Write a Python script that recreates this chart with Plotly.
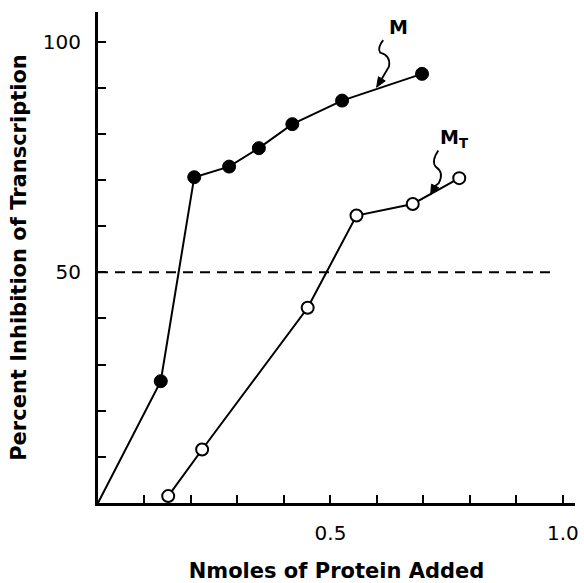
import plotly.graph_objects as go

# Data
m_x = [0.0, 0.135, 0.207, 0.282, 0.346, 0.418, 0.525, 0.697]
m_y = [0.0, 26.4, 70.6, 72.9, 76.9, 82.1, 87.2, 93.0]
mt_x = [0.151, 0.224, 0.451, 0.556, 0.677, 0.777]
mt_y = [1.5, 11.6, 42.3, 62.3, 64.8, 70.4]

x_tickvals = [0.5, 1.0]
x_ticktext = ["0.5", "1.0"]
y_tickvals = [50, 100]
y_ticktext = ["50", "100"]

threshold = 50

BLACK = "#000000"
FONT = "DejaVu Sans"

fig = go.Figure()

fig.add_trace(go.Scatter(
    x=m_x, y=m_y, mode="lines+markers",
    line=dict(color=BLACK, width=2),
    marker=dict(color=BLACK, opacity=1, size=[0] + [13] * (len(m_x) - 1),
                line=dict(color=BLACK, width=1)),
    showlegend=False, cliponaxis=False,
))
fig.add_trace(go.Scatter(
    x=mt_x, y=mt_y, mode="lines+markers",
    line=dict(color=BLACK, width=2),
    marker=dict(color="white", opacity=1, size=12, line=dict(color=BLACK, width=2)),
    showlegend=False, cliponaxis=False,
))

# dashed 50% line
fig.add_shape(type="line", xref="x", yref="y", x0=0, x1=0.978, y0=threshold, y1=threshold,
              line=dict(color=BLACK, width=2, dash="10px,7px"))

# squiggle pointers with arrowheads
fig.add_shape(type="path", xref="x", yref="y",
              path="M 0.6135 100.3 Q 0.600 98.6 0.607 97.6 Q 0.630 97.0 0.626 94.6 L 0.6105 91.93",
              line=dict(color=BLACK, width=1.8))
fig.add_shape(type="path", xref="x", yref="y",
              path="M 0.5993 90.09 L 0.6178 91.47 L 0.6032 92.38 Z",
              line=dict(color=BLACK, width=1), fillcolor=BLACK)
fig.add_shape(type="path", xref="x", yref="y",
              path="M 0.732 76.4 Q 0.716 74.0 0.727 72.8 Q 0.745 71.6 0.733 69.3 L 0.7252 68.70",
              line=dict(color=BLACK, width=1.8))
fig.add_shape(type="path", xref="x", yref="y",
              path="M 0.7155 66.77 L 0.7329 68.31 L 0.7174 69.09 Z",
              line=dict(color=BLACK, width=1), fillcolor=BLACK)

fig.add_annotation(x=0.647, y=103.2, xref="x", yref="y", text="<b>M</b>", showarrow=False,
                   font=dict(family=FONT, size=19, color=BLACK))
fig.add_annotation(x=0.765, y=79.0, xref="x", yref="y", text="<b>M<sub>T</sub></b>", showarrow=False,
                   font=dict(family=FONT, size=19, color=BLACK))

fig.update_layout(
    width=584, height=583,
    margin=dict(l=98, r=9, t=12, b=80),
    paper_bgcolor="white", plot_bgcolor="white",
    font=dict(family=FONT, color=BLACK),
)
fig.update_xaxes(
    range=[0, 1.026], showgrid=False, zeroline=False, automargin=False,
    showline=True, linecolor=BLACK, linewidth=3,
    ticks="inside", ticklen=8, tickwidth=2, tickcolor=BLACK,
    tickvals=x_tickvals, ticktext=x_ticktext, ticklabelstandoff=10,
    minor=dict(ticks="inside", ticklen=8, tickwidth=2, tickcolor=BLACK, dtick=0.1, tick0=0, showgrid=False),
    tickfont=dict(family=FONT, size=20, color=BLACK),
    title=dict(text="<b>Nmoles of Protein Added</b>", font=dict(family=FONT, size=21, color=BLACK), standoff=26),
)
fig.update_yaxes(
    range=[0, 106.4], showgrid=False, zeroline=False, automargin=False,
    showline=True, linecolor=BLACK, linewidth=3,
    ticks="inside", ticklen=8, tickwidth=2, tickcolor=BLACK,
    tickvals=y_tickvals, ticktext=y_ticktext, ticklabelstandoff=10,
    minor=dict(ticks="inside", ticklen=8, tickwidth=2, tickcolor=BLACK, dtick=10, tick0=0, showgrid=False),
    tickfont=dict(family=FONT, size=20, color=BLACK),
    title=dict(text="<b>Percent Inhibition of Transcription</b>", font=dict(family=FONT, size=21, color=BLACK), standoff=11),
)

fig.write_html("out.html")
